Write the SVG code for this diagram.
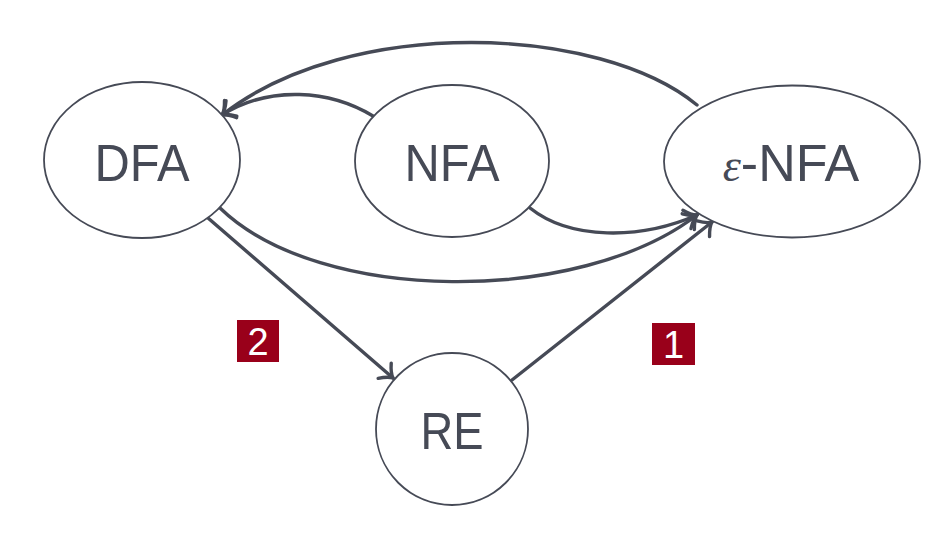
<svg xmlns="http://www.w3.org/2000/svg" width="951" height="548" viewBox="0 0 951 548">
<defs>
<marker id="arr" markerUnits="userSpaceOnUse" markerWidth="30" markerHeight="30" refX="0" refY="0" viewBox="-15 -15 30 30" orient="auto">
<path d="M -11 -10 Q -5 -2 0 0 Q -5 2 -11 10" fill="none" stroke="#464a56" stroke-width="3.4" stroke-linecap="round" stroke-linejoin="round"/>
</marker>
<style>
.node ellipse{fill:#fff;stroke:#464a56;stroke-width:1.8}
.lbl{font-family:"Liberation Sans",Arial,sans-serif;font-size:52px;fill:#464a56;text-anchor:middle}
.edge{fill:none;stroke:#464a56;stroke-width:3.4;stroke-linecap:round;marker-end:url(#arr)}
.badge rect{fill:#99001a}
.badge text{font-family:"Liberation Sans",Arial,sans-serif;font-size:38px;fill:#fff;text-anchor:middle}
</style>
</defs>
<rect width="951" height="548" fill="#fff"/>
<g id="connectors">
<path class="edge" d="M 697 105 C 600 25, 350 15, 222 115"/>
<path class="edge" d="M 373 116 C 330 90, 270 85, 222 115"/>
<path class="edge" d="M 530 208 C 570 240, 640 240, 697 215"/>
<path class="edge" d="M 220 208 C 320 305, 580 305, 697 215"/>
<path class="edge" d="M 208 218 L 393 378"/>
<path class="edge" d="M 512 380 L 712 222"/>
</g>
<g id="DFA" class="node"><ellipse cx="142" cy="160" rx="98" ry="78"/><text class="lbl" x="142" y="181" textLength="95" lengthAdjust="spacingAndGlyphs">DFA</text></g>
<g id="NFA" class="node"><ellipse cx="452" cy="161" rx="97" ry="76"/><text class="lbl" x="452" y="181" textLength="95" lengthAdjust="spacingAndGlyphs">NFA</text></g>
<g id="eNFA" class="node"><ellipse cx="792" cy="161.5" rx="128" ry="76"/><text class="lbl" x="791" y="181"><tspan font-family="'Liberation Serif',serif" font-style="italic" font-size="46">ε</tspan><tspan>-NFA</tspan></text></g>
<g id="RE" class="node"><ellipse cx="452" cy="429" rx="76" ry="76"/><text class="lbl" x="452" y="449" textLength="63" lengthAdjust="spacingAndGlyphs">RE</text></g>
<g id="badge2" class="badge"><rect x="237" y="320" width="42" height="42"/><text x="258" y="355">2</text></g>
<g id="badge1" class="badge"><rect x="652" y="323" width="43" height="42"/><text x="673.5" y="358">1</text></g>
</svg>
